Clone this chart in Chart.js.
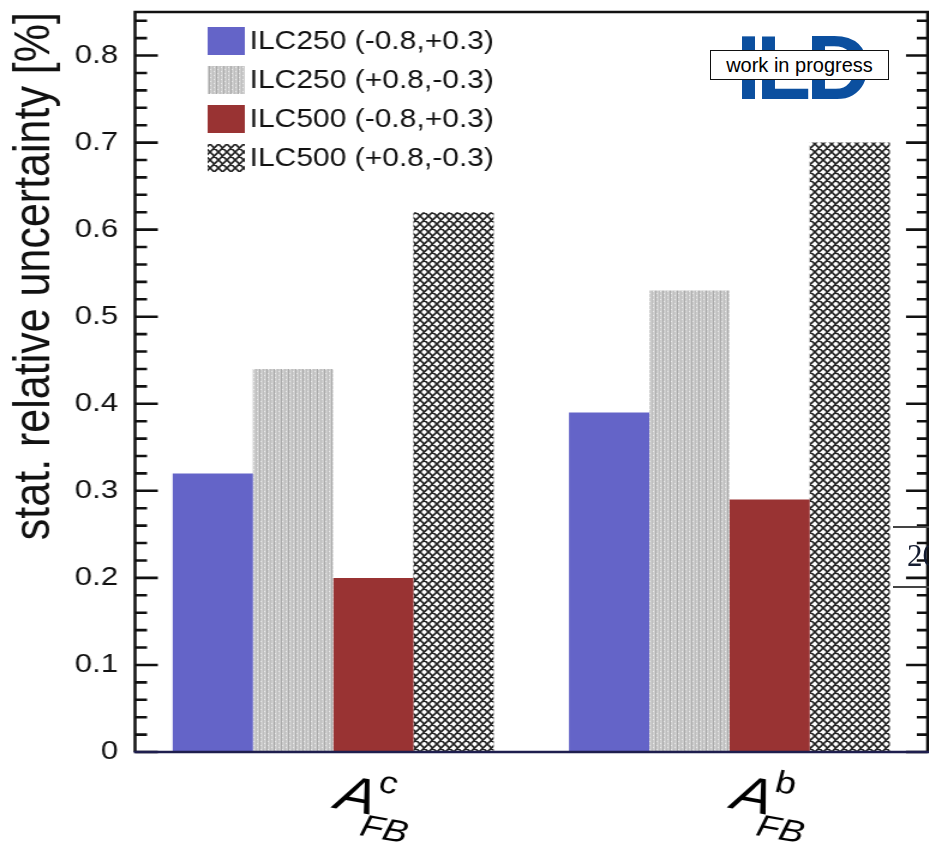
<!DOCTYPE html>
<html>
<head>
<meta charset="utf-8">
<script src="https://cdn.jsdelivr.net/npm/chart.js@4.4.0/dist/chart.umd.min.js"></script>
<style>
    html, body { margin: 0; padding: 0; background: #fff; }
    body { width: 929px; height: 849px; position: relative; overflow: hidden; font-family: 'Liberation Sans', Arial, sans-serif; }
    /* the original figure is stretched sideways, so the canvas is drawn narrow and widened */
    #stretch { position: absolute; left: 0; top: 0; width: 774px; height: 849px; transform: scaleX(1.2); transform-origin: 0 0; }
    #logo { position: absolute; left: 736px; top: 23px; font: bold 90px 'Liberation Sans', Arial, sans-serif; line-height: 1; color: #0b4f9f; letter-spacing: -5px; }
    #wip { position: absolute; left: 710px; top: 50px; width: 179px; height: 30px; box-sizing: border-box; border: 1px solid #111; background: #fff; font-size: 20px; line-height: 28px; text-align: center; color: #000; }
    .slideLine { position: absolute; left: 893px; width: 40px; height: 0; border-top: 2px solid #444; }
    #slideNum { position: absolute; left: 907px; top: 540px; font: 31px 'Liberation Serif', 'DejaVu Serif', serif; line-height: 1; color: #141c30; }
</style>
</head>
<body>
<div id="stretch"><canvas id="afbChart" width="774" height="849"></canvas></div>
<div id="logo">ILD</div>
<div id="wip">work in progress</div>
<div class="slideLine" style="top:526px"></div>
<div class="slideLine" style="top:586px"></div>
<div id="slideNum">20</div>

<script>
// ============================================
// A_FB statistical uncertainty, ILC250 vs ILC500
// ============================================

const categoryFlavours = ['c', 'b'];
const seriesLabels = [
    'ILC250 (-0.8,+0.3)',
    'ILC250 (+0.8,-0.3)',
    'ILC500 (-0.8,+0.3)',
    'ILC500 (+0.8,-0.3)',
];
const ilc250LeftPol = [0.32, 0.39];
const ilc250RightPol = [0.44, 0.53];
const ilc500LeftPol = [0.20, 0.29];
const ilc500RightPol = [0.62, 0.70];
const yTickValues = [0, 0.1, 0.2, 0.3, 0.4, 0.5, 0.6, 0.7, 0.8];

const FONT = "'Liberation Sans', Arial, sans-serif";

function makeGreyPattern(ctx) {
    const c = document.createElement('canvas');
    c.width = 6; c.height = 4;
    const g = c.getContext('2d');
    g.fillStyle = '#cdcdcd'; g.fillRect(0, 0, 6, 4);
    g.fillStyle = '#a9a9a9'; g.fillRect(0, 0, 1, 4);
    g.fillStyle = '#bdbdbd'; g.fillRect(3, 0, 1, 4);
    g.fillStyle = '#ececec'; g.fillRect(1, 1, 1, 1); g.fillRect(4, 3, 1, 1);
    return ctx.createPattern(c, 'repeat');
}

function makeCrossPattern(ctx) {
    const w = 7, h = 8;
    const c = document.createElement('canvas');
    c.width = w; c.height = h;
    const g = c.getContext('2d');
    g.fillStyle = '#fff'; g.fillRect(0, 0, w, h);
    g.strokeStyle = '#222'; g.lineWidth = 1.7;
    g.beginPath();
    [-w, 0, w].forEach(dx => {
        g.moveTo(dx, 0); g.lineTo(dx + w, h);
        g.moveTo(dx + w, 0); g.lineTo(dx, h);
    });
    g.stroke();
    return ctx.createPattern(c, 'repeat');
}

// frame and ROOT-style inward ticks, drawn on top of the bars
const frameTicks = {
    id: 'frameTicks',
    afterDatasetsDraw(chart) {
        const { ctx, chartArea: a, scales: { y } } = chart;
        ctx.save();
        ctx.strokeStyle = '#111';
        ctx.lineWidth = 2.6;
        ctx.beginPath();
        for (let k = 0; k <= 42; k++) {
            const py = y.getPixelForValue(k * 0.02);
            const major = k % 5 === 0;
            ctx.moveTo(a.left, py); ctx.lineTo(a.left + (major ? 19 : 10), py);
            ctx.moveTo(a.right, py); ctx.lineTo(a.right - (major ? 18 : 9), py);
        }
        ctx.stroke();
        ctx.lineWidth = 2.5;
        ctx.beginPath();
        ctx.moveTo(a.left, a.bottom); ctx.lineTo(a.left, a.top); ctx.lineTo(a.right, a.top); ctx.lineTo(a.right, a.bottom);
        ctx.stroke();
        ctx.strokeStyle = '#1e1e4e';
        ctx.beginPath();
        ctx.moveTo(a.left - 1, a.bottom); ctx.lineTo(a.right + 1, a.bottom);
        ctx.stroke();
        ctx.restore();
    }
};

// legend boxes inside the frame, top-left
const boxLegend = {
    id: 'boxLegend',
    afterDraw(chart) {
        const ctx = chart.ctx;
        ctx.save();
        ctx.font = '25px ' + FONT;
        ctx.textBaseline = 'middle';
        chart.data.datasets.forEach((ds, i) => {
            const cy = 41 + i * 39;
            ctx.fillStyle = ds.backgroundColor;
            ctx.fillRect(173, cy - 14, 31, 28);
            ctx.fillStyle = '#111';
            ctx.fillText(ds.label, 208, cy + 1);
        });
        ctx.restore();
    }
};

// tilted A_FB^q labels under each group
const afbLabels = {
    id: 'afbLabels',
    afterDraw(chart) {
        const { ctx, scales: { x } } = chart;
        ctx.save();
        ctx.fillStyle = '#000';
        ctx.textBaseline = 'alphabetic';
        chart.data.labels.forEach((q, i) => {
            const cx = x.getPixelForValue(i);
            ctx.save();
            ctx.translate(cx, 808);
            ctx.rotate(12 * Math.PI / 180);
            ctx.font = 'italic 50px ' + FONT;
            ctx.fillText('A', 0, 0);
            const aw = ctx.measureText('A').width;
            ctx.font = '31px ' + FONT;
            ctx.fillText(q, aw - 1, -24);
            ctx.font = 'italic 31px ' + FONT;
            ctx.fillText('FB', aw - 7, 22);
            ctx.restore();
        });
        ctx.restore();
    }
};

document.addEventListener('DOMContentLoaded', () => {
    const canvas = document.getElementById('afbChart');
    const ctx = canvas.getContext('2d');
    const greyFill = makeGreyPattern(ctx);
    const crossFill = makeCrossPattern(ctx);

    new Chart(canvas, {
        type: 'bar',
        data: {
            labels: categoryFlavours,
            datasets: [
                { label: seriesLabels[0], data: ilc250LeftPol, backgroundColor: '#6464c8' },
                { label: seriesLabels[1], data: ilc250RightPol, backgroundColor: greyFill },
                { label: seriesLabels[2], data: ilc500LeftPol, backgroundColor: '#993333' },
                { label: seriesLabels[3], data: ilc500RightPol, backgroundColor: crossFill },
            ]
        },
        options: {
            responsive: false, animation: false,
            layout: { padding: { top: 12, right: 1, left: 0, bottom: 0 } },
            datasets: { bar: { categoryPercentage: 0.81, barPercentage: 1.0, borderWidth: 0 } },
            plugins: { legend: { display: false }, tooltip: { enabled: false } },
            scales: {
                x: {
                    grid: { display: false, drawTicks: false }, border: { display: false },
                    ticks: { display: false },
                    afterFit: s => { s.height = 97; s.paddingLeft = 0; s.paddingRight = 0; }
                },
                y: {
                    min: 0, max: 0.85,
                    grid: { display: false, drawTicks: false }, border: { display: false },
                    afterBuildTicks: s => { s.ticks = yTickValues.map(v => ({ value: v })); },
                    ticks: {
                        padding: 14, color: '#111', font: { family: FONT, size: 26 },
                        callback: v => v === 0 ? '0' : v.toFixed(1)
                    },
                    title: {
                        display: true, text: 'stat. relative uncertainty [%]', align: 'end',
                        color: '#111', font: { family: FONT, size: 43 }, padding: { top: 3, bottom: 0 }
                    },
                    afterFit: s => { s.width = 112.5; s.paddingTop = 0; s.paddingBottom = 0; }
                }
            }
        },
        plugins: [frameTicks, boxLegend, afbLabels]
    });
});
</script>
</body>
</html>
